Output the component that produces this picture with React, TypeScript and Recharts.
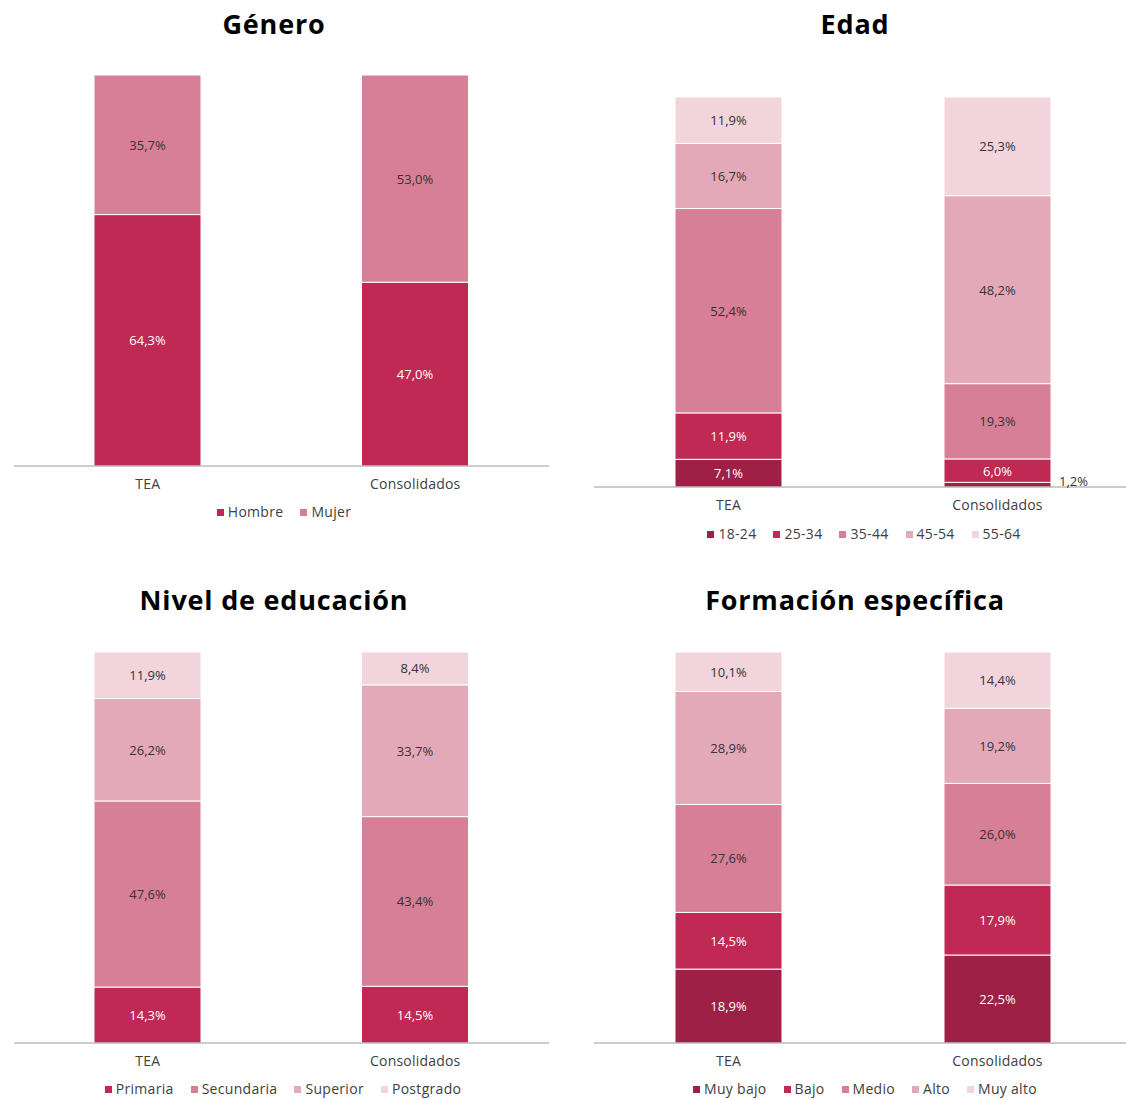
import React from 'react';
import { BarChart, Bar, XAxis, YAxis, LabelList } from 'recharts';

const FONT = "'Open Sans', 'Noto Sans', sans-serif";

const categories = ['TEA', 'Consolidados'];

const generoSeries = ['Hombre', 'Mujer'];
const generoTEA = [64.3, 35.7];
const generoCons = [47.0, 53.0];

const edadSeries = ['18-24', '25-34', '35-44', '45-54', '55-64'];
const edadTEA = [7.1, 11.9, 52.4, 16.7, 11.9];
const edadCons = [1.2, 6.0, 19.3, 48.2, 25.3];

const eduSeries = ['Primaria', 'Secundaria', 'Superior', 'Postgrado'];
const eduTEA = [14.3, 47.6, 26.2, 11.9];
const eduCons = [14.5, 43.4, 33.7, 8.4];

const formSeries = ['Muy bajo', 'Bajo', 'Medio', 'Alto', 'Muy alto'];
const formTEA = [18.9, 14.5, 27.6, 28.9, 10.1];
const formCons = [22.5, 17.9, 26.0, 19.2, 14.4];

const C_DARK = '#9E2046';
const C_MAIN = '#BF2954';
const C_MED = '#D77F96';
const C_ALTO = '#E4A9B9';
const C_MALTO = '#F2D4DC';

const generoColors = [C_MAIN, C_MED];
const edadColors = [C_DARK, C_MAIN, C_MED, C_ALTO, C_MALTO];
const eduColors = [C_MAIN, C_MED, C_ALTO, C_MALTO];
const formColors = [C_DARK, C_MAIN, C_MED, C_ALTO, C_MALTO];

const lightText = (c: string) => c === C_DARK || c === C_MAIN;

const fmt = (v: number) => v.toFixed(1).replace('.', ',') + '%';

function buildRows(series: string[], tea: number[], cons: number[]) {
  return categories.map((cat, ci) => {
    const row: any = { name: cat };
    const vals = ci === 0 ? tea : cons;
    series.forEach((s, i) => {
      row[s] = vals[i];
    });
    return row;
  });
}

function makeLabel(color: string) {
  return (props: any) => {
    const { x, y, width, height, value } = props;
    if (value == null) return null;
    const v = Number(value);
    const fill = lightText(color) ? '#ffffff' : '#333333';
    if (v < 3) {
      return (
        <text
          x={Number(x) + Number(width) + 8}
          y={Number(y) + Number(height) / 2 - 4}
          fill="#333333"
          fontSize={13}
          fontFamily={FONT}
          textAnchor="start"
          dominantBaseline="central"
        >
          {fmt(v)}
        </text>
      );
    }
    return (
      <text
        x={Number(x) + Number(width) / 2}
        y={Number(y) + Number(height) / 2}
        fill={fill}
        fontSize={13}
        fontFamily={FONT}
        textAnchor="middle"
        dominantBaseline="central"
      >
        {fmt(v)}
      </text>
    );
  };
}

type PanelProps = {
  left: number;
  top: number;
  width: number;
  height: number;
  marginTop: number;
  marginBottom: number;
  marginLeft: number;
  marginRight: number;
  series: string[];
  colors: string[];
  tea: number[];
  cons: number[];
};

function Panel(p: PanelProps) {
  const data = buildRows(p.series, p.tea, p.cons);
  return (
    <div style={{ position: 'absolute', left: p.left, top: p.top }}>
      <BarChart
        width={p.width}
        height={p.height}
        data={data}
        margin={{ top: p.marginTop, bottom: p.marginBottom, left: p.marginLeft, right: p.marginRight }}
        barSize={107}
      >
        <XAxis
          dataKey="name"
          height={30}
          tickLine={false}
          axisLine={{ stroke: '#9a9a9a' }}
          tick={{ fill: '#404040', fontSize: 14, fontFamily: FONT, letterSpacing: 0.2 }}
          tickMargin={7}
        />
        <YAxis hide domain={[0, 100]} type="number" />
        {p.series.map((s, i) => (
          <Bar
            key={s}
            dataKey={s}
            stackId="a"
            fill={p.colors[i]}
            stroke="#ffffff"
            strokeWidth={1}
            isAnimationActive={false}
          >
            <LabelList dataKey={s} content={makeLabel(p.colors[i])} />
          </Bar>
        ))}
      </BarChart>
    </div>
  );
}

function Legend2({ cx, top, series, colors }: { cx: number; top: number; series: string[]; colors: string[] }) {
  return (
    <div
      style={{
        position: 'absolute',
        left: cx - 300,
        width: 600,
        top: top,
        display: 'flex',
        justifyContent: 'center',
        gap: 17,
        fontFamily: FONT,
        fontSize: 14,
        letterSpacing: 0.3,
        color: '#404040',
        lineHeight: '18px',
      }}
    >
      {series.map((s, i) => (
        <div key={s} style={{ display: 'flex', alignItems: 'center' }}>
          <span style={{ display: 'inline-block', width: 7, height: 7, background: colors[i], marginRight: 4 }} />
          <span>{s}</span>
        </div>
      ))}
    </div>
  );
}

function Title({ cx, top, text }: { cx: number; top: number; text: string }) {
  return (
    <div
      style={{
        position: 'absolute',
        left: cx - 250,
        width: 500,
        top: top,
        textAlign: 'center',
        fontFamily: FONT,
        fontWeight: 700,
        fontSize: 27,
        letterSpacing: 0.8,
        color: '#000',
        lineHeight: '32px',
      }}
    >
      {text}
    </div>
  );
}

export default function App() {
  return (
    <div
      style={{
        position: 'absolute',
        left: 0,
        top: 0,
        width: 1126,
        height: 1100,
        overflow: 'hidden',
        background: '#ffffff',
      }}
    >
      <Title cx={274} top={8} text="Género" />
      <Title cx={855} top={8} text="Edad" />
      <Title cx={274} top={584} text="Nivel de educación" />
      <Title cx={855} top={584} text="Formación específica" />

      <Panel
        left={0}
        top={0}
        width={560}
        height={500}
        marginTop={75}
        marginBottom={4}
        marginLeft={14}
        marginRight={11}
        series={generoSeries}
        colors={generoColors}
        tea={generoTEA}
        cons={generoCons}
      />
      <Panel
        left={580}
        top={0}
        width={560}
        height={520}
        marginTop={97}
        marginBottom={3}
        marginLeft={14}
        marginRight={8}
        series={edadSeries}
        colors={edadColors}
        tea={edadTEA}
        cons={edadCons}
      />
      <Panel
        left={0}
        top={560}
        width={560}
        height={520}
        marginTop={92}
        marginBottom={7}
        marginLeft={14}
        marginRight={11}
        series={eduSeries}
        colors={eduColors}
        tea={eduTEA}
        cons={eduCons}
      />
      <Panel
        left={580}
        top={560}
        width={560}
        height={520}
        marginTop={92}
        marginBottom={7}
        marginLeft={14}
        marginRight={8}
        series={formSeries}
        colors={formColors}
        tea={formTEA}
        cons={formCons}
      />

      <Legend2 cx={284} top={503} series={generoSeries} colors={generoColors} />
      <Legend2 cx={864} top={525} series={edadSeries} colors={edadColors} />
      <Legend2 cx={283} top={1080} series={eduSeries} colors={eduColors} />
      <Legend2 cx={865} top={1080} series={formSeries} colors={formColors} />
    </div>
  );
}
